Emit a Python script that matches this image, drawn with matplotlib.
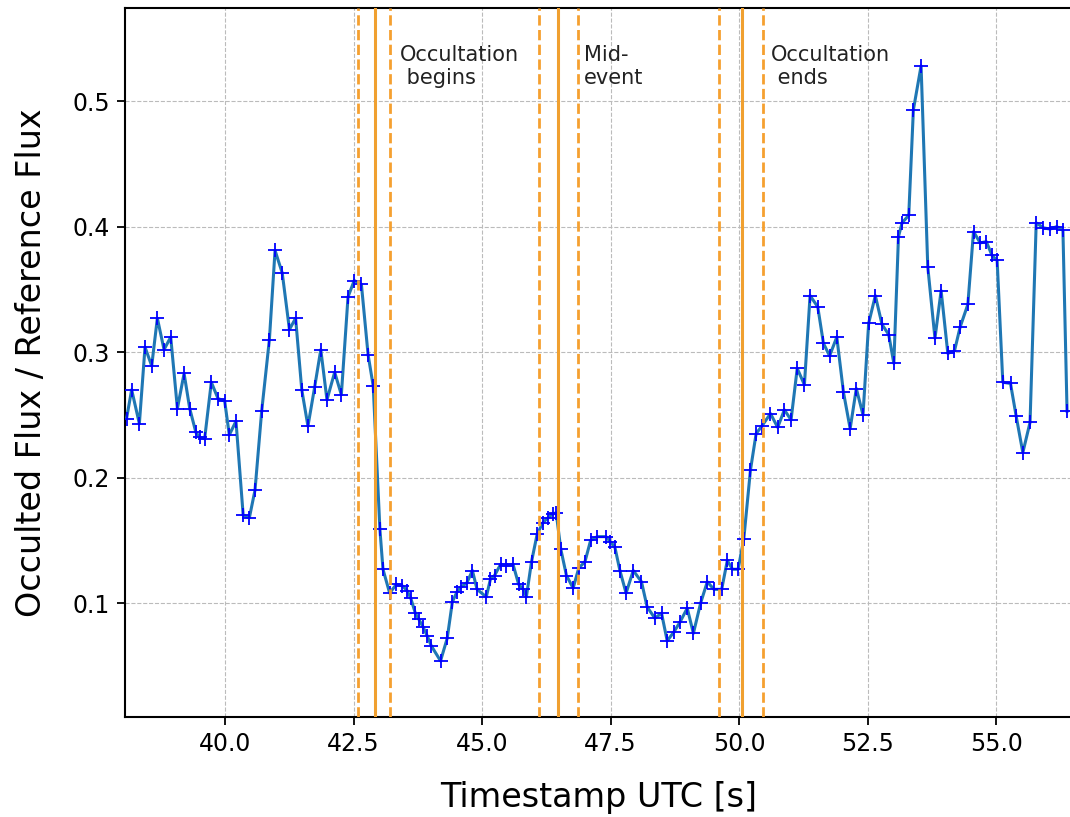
import matplotlib
matplotlib.use("Agg")
import matplotlib.pyplot as plt

# light curve (timestamp in s, flux ratio)
time_s = [38.08, 38.18, 38.33, 38.44, 38.57, 38.68, 38.81, 38.94, 39.07, 39.20,
          39.31, 39.43, 39.51, 39.60, 39.73, 39.86, 39.99, 40.08, 40.21, 40.35,
          40.47, 40.58, 40.71, 40.86, 40.97, 41.11, 41.25, 41.37, 41.49, 41.61,
          41.74, 41.86, 41.98, 42.13, 42.26, 42.39, 42.51, 42.65, 42.78, 42.88,
          43.01, 43.07, 43.20, 43.33, 43.44, 43.54, 43.61, 43.70, 43.77, 43.85,
          43.93, 44.01, 44.19, 44.32, 44.42, 44.51, 44.59, 44.70, 44.81, 44.90,
          45.08, 45.16, 45.24, 45.36, 45.47, 45.60, 45.71, 45.80, 45.86, 45.96,
          46.07, 46.18, 46.28, 46.37, 46.44, 46.53, 46.64, 46.77, 46.88, 47.00,
          47.11, 47.24, 47.41, 47.49, 47.58, 47.68, 47.80, 47.94, 48.10, 48.21,
          48.36, 48.49, 48.60, 48.73, 48.85, 48.99, 49.11, 49.25, 49.38, 49.51,
          49.66, 49.77, 49.87, 49.98, 50.09, 50.22, 50.33, 50.44, 50.61, 50.75,
          50.88, 51.01, 51.13, 51.27, 51.38, 51.53, 51.64, 51.76, 51.90, 52.03,
          52.16, 52.28, 52.41, 52.52, 52.65, 52.78, 52.91, 53.01, 53.10, 53.17,
          53.30, 53.39, 53.54, 53.67, 53.81, 53.93, 54.06, 54.19, 54.30, 54.45,
          54.56, 54.69, 54.81, 54.92, 55.02, 55.13, 55.28, 55.39, 55.52, 55.66,
          55.78, 55.92, 56.05, 56.18, 56.30, 56.38]
flux_ratio = [0.247, 0.270, 0.243, 0.304, 0.289, 0.327, 0.302, 0.312, 0.255, 0.283,
              0.255, 0.236, 0.232, 0.231, 0.276, 0.263, 0.261, 0.234, 0.245, 0.170,
              0.168, 0.190, 0.253, 0.310, 0.381, 0.363, 0.318, 0.327, 0.270, 0.241,
              0.272, 0.302, 0.262, 0.284, 0.266, 0.344, 0.357, 0.354, 0.298, 0.273,
              0.159, 0.127, 0.108, 0.115, 0.114, 0.110, 0.104, 0.092, 0.087, 0.081,
              0.074, 0.066, 0.054, 0.072, 0.101, 0.109, 0.113, 0.116, 0.126, 0.111,
              0.105, 0.119, 0.122, 0.131, 0.130, 0.131, 0.115, 0.111, 0.105, 0.133,
              0.155, 0.164, 0.168, 0.171, 0.172, 0.143, 0.122, 0.112, 0.128, 0.133,
              0.150, 0.153, 0.153, 0.149, 0.145, 0.126, 0.108, 0.126, 0.117, 0.097,
              0.088, 0.092, 0.070, 0.077, 0.085, 0.096, 0.076, 0.100, 0.117, 0.111,
              0.111, 0.134, 0.127, 0.127, 0.151, 0.206, 0.235, 0.241, 0.251, 0.240,
              0.254, 0.246, 0.287, 0.274, 0.345, 0.336, 0.307, 0.297, 0.312, 0.268,
              0.239, 0.271, 0.250, 0.323, 0.345, 0.322, 0.314, 0.291, 0.392, 0.403,
              0.409, 0.493, 0.528, 0.368, 0.311, 0.349, 0.299, 0.301, 0.320, 0.338,
              0.396, 0.387, 0.388, 0.377, 0.373, 0.276, 0.275, 0.249, 0.220, 0.244,
              0.403, 0.399, 0.398, 0.400, 0.397, 0.253]

# event markers: centre time and the two bounding times
event_centres = [42.92, 46.47, 50.05]
event_bounds = [42.58, 43.21, 46.11, 46.86, 49.61, 50.47]
event_labels = ["Occultation\n begins", "Mid-\nevent", "Occultation\n ends"]
label_x = [43.40, 46.98, 50.62]

x_ticks = [40.0, 42.5, 45.0, 47.5, 50.0, 52.5, 55.0]
y_ticks = [0.1, 0.2, 0.3, 0.4, 0.5]

fig = plt.figure(figsize=(10.70, 8.17), dpi=100)
ax = fig.add_axes([0.1168, 0.123, 0.8862, 0.867])

ax.plot(time_s, flux_ratio, color="#1f77b4", linewidth=2.2, zorder=3)
ax.plot(time_s, flux_ratio, "b+", markersize=10, markeredgewidth=1.3, zorder=4)

for t in event_centres:
    ax.axvline(t, color="#f0a030", linewidth=2.2, zorder=5)
for t in event_bounds:
    ax.axvline(t, color="#f5a030", linewidth=2.0, linestyle="--", zorder=5)

for x, txt in zip(label_x, event_labels):
    ax.text(x, 0.545, txt, fontsize=15, va="top", ha="left", color="#222222")

ax.set_xlim(38.05, 56.50)
ax.set_ylim(0.0097, 0.574)
ax.set_xticks(x_ticks)
ax.set_xticklabels([f"{v:.1f}" for v in x_ticks])
ax.set_yticks(y_ticks)
ax.set_yticklabels([f"{v:.1f}" for v in y_ticks])
ax.tick_params(labelsize=17, length=6, width=1.3, pad=5)
ax.grid(True, linestyle="--", linewidth=0.8, color="#bbbbbb")
ax.set_axisbelow(True)
for s in ax.spines.values():
    s.set_linewidth(1.5)

ax.set_xlabel("Timestamp UTC [s]", fontsize=24, labelpad=18)
ax.set_ylabel("Occulted Flux / Reference Flux", fontsize=24, labelpad=17)

fig.savefig("out.png", dpi=100)
